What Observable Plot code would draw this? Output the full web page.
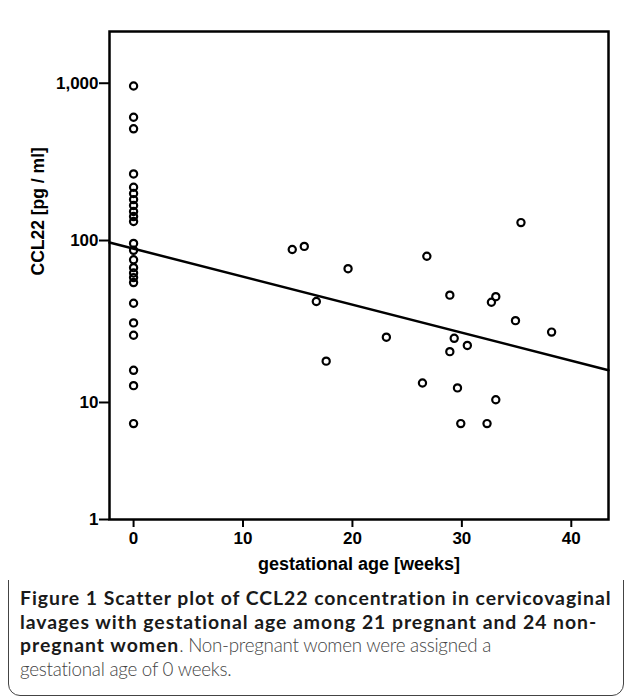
<!DOCTYPE html>
<html><head><meta charset="utf-8">
<script src="https://cdn.jsdelivr.net/npm/d3@7"></script>
<script src="https://cdn.jsdelivr.net/npm/@observablehq/plot@0.6"></script>
<style>
html,body{margin:0;padding:0;background:#fff;}
#box{position:absolute;left:8px;top:12px;width:616px;height:684px;border:1.5px solid #444;border-radius:12px;box-sizing:border-box;}
#chart{position:absolute;left:0;top:0;}
#caption{position:absolute;left:20px;top:586px;font-family:Lato,"Open Sans",sans-serif;font-size:19.4px;line-height:23.5px;color:#555;white-space:nowrap;}
#caption b{color:#1a1a1a;font-weight:bold;}
#caption .n{font-size:18.8px;font-weight:300;letter-spacing:-0.25px;color:#444;}
</style></head><body>
<div id="box"></div>
<div id="chart"></div>
<div id="caption"><span id="line1"><b>Figure 1 Scatter plot of CCL22 concentration in cervicovaginal</b></span><br><b>lavages with gestational age among 21 pregnant and 24 non-</b><br><b>pregnant women</b><span class="n">. Non-pregnant women were assigned a</span><br><span class="n">gestational age of 0 weeks.</span></div>
<script>
// Non-pregnant women (assigned 0 weeks)
const nonPregnantWeeks = 0;
const nonPregnantCCL22 = [960, 608, 513, 265, 218, 199, 182, 167, 153, 142, 132, 96, 87, 76, 68, 63, 59, 55, 41, 31, 26, 15.8, 12.7, 6.6];
// Pregnant women
const pregnantWeeks = [14.5, 15.6, 19.6, 26.8, 28.9, 16.7, 23.1, 29.3, 28.9, 17.6, 26.4, 29.6, 29.9, 35.4, 33.1, 32.7, 34.9, 38.2, 30.5, 32.3, 33.1];
const pregnantCCL22 = [88, 92, 67, 80, 46, 42, 25.3, 24.9, 20.6, 18, 13.2, 12.3, 6.6, 130, 45, 41.6, 32, 27.2, 22.5, 6.6, 10.4];
// Fit line (log-linear regression), read at the ends of the x range
const fitWeeks = [-2.2, 43.4];
const fitCCL22 = [97.2, 15.8];
// Axes
const xDomain = [-2.2, 43.4];
const yTicks = [1, 10, 100, 1000];
const yDomain = [1, 10, 100, 1000, 2133];
const xTicks = [0, 10, 20, 30, 40];
const xLabel = "gestational age [weeks]";
const yLabel = "CCL22 [pg / ml]";

const points = [
  ...nonPregnantCCL22.map(v => ({weeks: nonPregnantWeeks, ccl22: v})),
  ...pregnantWeeks.map((w, i) => ({weeks: w, ccl22: pregnantCCL22[i]}))
];
const fit = fitWeeks.map((w, i) => ({weeks: w, ccl22: fitCCL22[i]}));

const width = 629, height = 580, marginTop = 31, marginBottom = 61, marginLeft = 109, marginRight = 21;
const bottom = height - marginBottom;
// relative positions of the domain stops along the axis (SPSS-style axis spacing)
const stops = [0, 0.2398, 0.5717, 0.894, 1];
const yRange = stops.map(f => bottom - f * (bottom - marginTop));

const chart = Plot.plot({
  width, height, marginTop, marginBottom, marginLeft, marginRight,
  style: {fontFamily: "'Liberation Sans', Arial, sans-serif", fontSize: "17px", background: "white", color: "black"},
  x: {domain: xDomain},
  y: {type: "log", domain: yDomain, range: yRange},
  marks: [
    Plot.axisY({ticks: yTicks, tickFormat: d3.format(","), tickSize: 10, tickPadding: 1, strokeWidth: 2, fontSize: 17, fontWeight: "bold", label: null}),
    Plot.axisX({ticks: xTicks, tickSize: 8, tickPadding: 4, strokeWidth: 2, fontSize: 17, fontWeight: "bold", label: null}),
    Plot.line(fit, {x: "weeks", y: "ccl22", stroke: "black", strokeWidth: 2.5}),
    Plot.dot(points, {x: "weeks", y: "ccl22", r: 3.6, stroke: "black", strokeWidth: 2.2, fill: "none"}),
    Plot.frame({stroke: "black", strokeWidth: 2.5}),
    Plot.text([xLabel], {frameAnchor: "bottom", dy: 50, fontSize: 18, fontWeight: "bold", fill: "black"}),
    Plot.text([yLabel], {frameAnchor: "left", dx: -71, rotate: -90, fontSize: 17.5, fontWeight: "bold", fill: "black"})
  ]
});
document.getElementById("chart").appendChild(chart);

// fit the caption's first (bold) line to the box width via letter spacing
const cap = document.getElementById("caption");
const line1 = document.getElementById("line1");
const w1 = line1.getBoundingClientRect().width;
const nChars = line1.textContent.length;
cap.style.letterSpacing = ((591 - w1) / nChars) + "px";
</script>
</body></html>
